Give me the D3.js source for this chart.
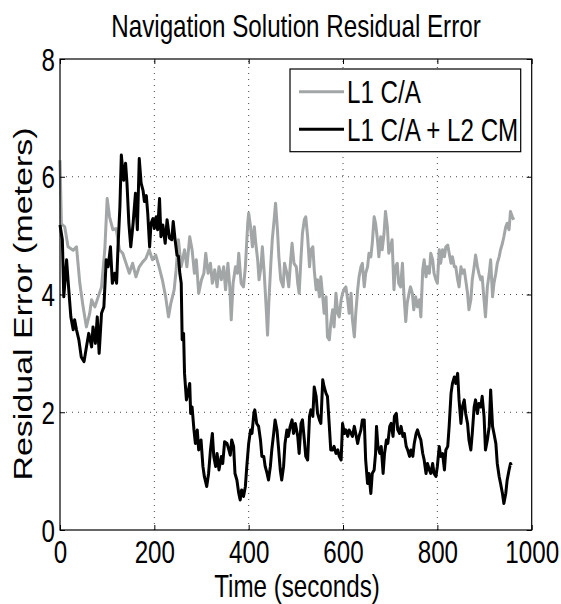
<!DOCTYPE html>
<html><head><meta charset="utf-8">
<script src="https://cdn.jsdelivr.net/npm/d3@7"></script>
<style>body{margin:0;background:#fff}svg{display:block}</style>
</head><body>
<svg id="c" width="561" height="604"></svg>
<script>
const title = "Navigation Solution Residual Error";
const xLabel = "Time (seconds)";
const yLabel = "Residual Error (meters)";
const xTicks = [0,200,400,600,800,1000];
const yTicks = [0,2,4,6,8];
const seriesNames = ["L1 C/A", "L1 C/A + L2 CM"];

const grayT = [0,3,10,17,28,35,42,49,56,63,67,74,81,88,95,100,105,112,119,126,133,140,147,154,161,168,175,182,189,196,203,210,217,224,230,235,242,246,251,257,264,269,275,280,285,289,294,300,305,309,314,319,323,328,333,337,342,347,351,356,360,363,367,372,376,379,384,389,393,398,400,404,408,412,415,419,422,426,429,433,437,440,443,447,450,454,457,461,464,468,473,476,481,485,489,492,496,501,504,507,511,514,518,521,525,529,532,536,539,543,546,550,553,557,560,564,567,571,574,578,581,585,589,592,596,599,603,606,610,613,617,620,624,627,631,634,638,641,645,648,652,655,659,662,666,669,673,676,680,683,687,690,694,697,701,704,708,711,715,718,722,726,729,733,736,740,743,747,750,754,758,762,765,769,772,776,779,783,786,790,793,797,800,804,807,811,815,818,822,825,829,832,836,839,843,846,850,853,857,860,864,867,871,874,878,881,885,888,892,895,899,902,906,910,913,917,920,924,927,931,934,938,941,945,948,952,955,959,962];
const grayV = [6.28,5.2,5.15,4.81,4.75,4.81,4.19,3.79,3.45,3.68,3.91,3.79,3.96,4.13,4.76,5.63,5.32,5.10,5.12,4.76,4.70,4.53,4.36,4.53,4.30,4.47,4.55,4.61,4.76,4.59,4.67,4.47,4.25,3.96,3.62,3.85,4.08,4.4,4.93,4.47,4.76,4.47,4.98,4.76,4.36,4.59,4.02,4.25,4.36,4.70,4.36,4.53,4.19,4.42,4.13,4.47,4.25,4.47,4.08,4.53,4.13,3.57,4.19,4.47,4.36,4.70,4.19,4.13,4.47,5.21,5.38,5.15,4.81,5.15,4.87,4.59,4.25,4.47,4.81,4.36,3.79,3.31,3.91,4.53,4.93,5.27,5.55,5.10,4.64,4.25,4.13,4.53,4.36,4.13,4.59,4.87,4.53,4.47,4.19,4.02,4.64,5.04,5.27,5.32,4.98,4.47,4.76,4.81,4.42,4.08,4.25,3.96,4.30,3.96,3.68,3.96,3.28,3.23,3.51,3.74,3.45,4.02,3.68,3.62,3.91,4.02,4.10,4.13,3.91,3.68,4.02,3.57,3.28,3.68,4.08,4.30,4.47,4.53,4.13,4.36,4.47,4.70,4.64,4.87,5.32,5.21,4.93,4.64,4.98,4.76,5.04,5.41,5.15,4.70,4.81,4.93,4.08,4.47,4.53,4.19,4.13,4.53,4.02,3.54,3.85,4.02,4.13,4.02,3.74,3.96,3.79,3.91,3.62,4.42,4.59,4.30,4.47,4.36,4.70,4.59,4.36,4.25,4.19,4.76,4.53,4.76,4.64,4.81,4.84,4.70,4.53,4.64,4.47,4.47,4.25,4.13,4.47,4.36,4.42,4.25,4.02,3.74,3.91,4.25,4.47,4.67,4.47,4.36,4.25,4.30,3.91,3.62,4.13,4.36,4.59,3.96,4.19,4.36,4.53,4.64,4.76,4.87,4.98,5.15,5.21,5.10,5.41,5.32,5.27];

const blackT = [0,5,8,14,17,23,28,31,35,40,45,51,56,61,67,70,75,79,83,88,93,98,102,107,111,116,120,123,127,130,135,139,142,146,150,155,160,164,168,172,176,179,183,186,190,193,197,200,204,207,211,214,218,223,227,232,237,240,244,248,251,254,257,259,262,264,268,271,275,277,280,284,287,291,294,299,303,306,311,315,319,323,326,330,333,337,342,345,349,354,357,361,364,368,371,375,379,382,385,389,393,396,400,404,407,411,413,417,421,425,428,432,435,439,442,446,449,453,456,460,463,467,470,474,477,481,484,488,492,495,499,504,507,511,514,518,521,525,529,532,536,539,543,546,550,553,557,560,564,567,571,574,578,581,585,589,592,596,599,603,606,610,613,617,620,624,627,631,634,638,641,645,648,652,655,659,662,666,669,671,674,678,681,685,688,692,695,699,702,706,709,713,716,720,723,727,730,734,737,741,744,748,751,755,758,762,765,769,772,776,779,783,786,790,793,797,800,804,807,811,815,818,822,825,829,832,836,839,843,846,850,853,857,860,864,867,871,874,878,881,885,888,892,895,899,902,906,910,913,917,920,924,927,931,934,938,941,945,948,952,955,957];
const blackV = [5.18,4.93,3.96,4.59,4.25,3.62,3.40,3.57,3.40,3.23,2.94,2.86,3.11,3.34,3.11,3.45,3.17,3.62,3.0,3.68,3.79,4.59,4.47,4.81,4.19,4.36,4.19,4.81,5.49,6.37,5.94,6.23,5.89,5.21,4.81,5.21,5.72,5.10,6.31,5.89,5.77,5.58,5.68,5.38,4.81,5.21,5.29,5.12,5.32,5.10,5.63,4.98,5.18,4.87,5.27,4.96,4.93,5.24,4.93,4.67,4.65,4.36,4.19,3.23,3.34,2.66,2.21,2.32,2.49,1.98,2.09,1.70,1.47,1.70,1.36,1.53,1.08,0.91,0.74,0.96,1.36,1.64,1.25,1.08,1.30,1.02,1.25,1.13,1.50,1.47,1.39,1.27,1.53,1.42,0.96,0.85,0.62,0.51,0.68,0.57,0.74,1.08,1.47,1.70,1.64,1.98,2.04,1.81,1.76,1.53,1.25,1.25,1.08,0.96,0.85,1.08,1.36,1.64,1.87,1.70,1.42,1.02,0.85,1.08,1.47,1.70,1.59,1.76,1.87,1.64,1.81,1.59,1.30,1.81,1.87,1.53,1.25,1.19,1.93,2.04,1.93,2.43,2.27,1.98,1.87,1.81,2.55,2.43,2.32,2.27,1.76,1.36,1.36,1.42,1.30,1.36,1.25,1.19,1.81,1.64,1.70,1.59,1.70,1.64,1.59,1.76,1.64,1.47,1.59,1.70,1.87,1.87,1.19,0.79,0.96,0.62,0.96,1.02,1.30,1.76,1.42,1.30,1.42,0.96,1.30,1.53,1.47,1.76,1.81,1.59,1.93,1.98,1.70,1.64,1.76,1.59,1.64,1.42,1.36,1.25,1.36,1.25,1.47,1.64,1.70,1.59,1.53,1.30,1.19,0.96,1.13,1.02,0.96,1.13,0.96,0.91,1.08,1.42,1.25,1.30,1.02,1.36,1.42,1.76,2.32,2.49,2.60,2.49,2.66,2.21,1.81,2.09,2.21,1.98,1.81,1.53,1.36,1.64,2.09,2.21,1.98,2.15,2.09,2.27,1.93,1.36,1.53,1.76,2.38,1.76,1.64,1.47,1.13,0.91,0.79,0.62,0.45,0.62,0.85,1.02,1.13,1.10];

const grayColor = "#a2a6a6";
const FONT = "'Liberation Sans', Arial, Helvetica, sans-serif";
const SX = 0.78;

const svg = d3.select("#c");
const L = 60, R = 531.7, T = 59, B = 530;
const x = d3.scaleLinear().domain([0,1000]).range([L,R]);
const y = d3.scaleLinear().domain([0,8]).range([B,T]);

// grid
const grid = svg.append("g");
grid.selectAll("line.gx").data(xTicks.filter(d=>d>0&&d<1000)).join("line")
  .attr("x1",d=>x(d)).attr("x2",d=>x(d)).attr("y1",B).attr("y2",T)
  .attr("stroke","#444").attr("stroke-width",1).attr("stroke-dasharray","1,5");
grid.selectAll("line.gy").data(yTicks.filter(d=>d>0&&d<8)).join("line")
  .attr("y1",d=>y(d)).attr("y2",d=>y(d)).attr("x1",L).attr("x2",R)
  .attr("stroke","#444").attr("stroke-width",1).attr("stroke-dasharray","1,5");

// lines
const lineGen = d3.line().x(d=>x(d[0])).y(d=>y(d[1]));
const grayData = grayT.map((t,i)=>[t,grayV[i]]);
const blackData = blackT.map((t,i)=>[t,blackV[i]]);
svg.append("path").datum(grayData).attr("d",lineGen).attr("fill","none")
  .attr("stroke",grayColor).attr("stroke-width",3).attr("stroke-linejoin","round");
svg.append("path").datum(blackData).attr("d",lineGen).attr("fill","none")
  .attr("stroke","#000").attr("stroke-width",3).attr("stroke-linejoin","round");

// axes
function styleAxis(g){
  g.select(".domain").remove();
  g.selectAll(".tick line").attr("stroke","#000");
}
const xAxis = svg.append("g").attr("transform",`translate(0,${B})`)
  .call(d3.axisBottom(x).tickValues(xTicks).tickSizeInner(-5).tickSizeOuter(0).tickFormat(d3.format("d")));
styleAxis(xAxis);
xAxis.selectAll(".tick text").attr("y",33).attr("dy",null)
  .attr("font-family",FONT).attr("font-size",31).attr("fill","#000")
  .attr("transform",`scale(${SX},1)`);
const xTop = svg.append("g").attr("transform",`translate(0,${T})`)
  .call(d3.axisTop(x).tickValues(xTicks).tickSizeInner(-5).tickSizeOuter(0).tickFormat(""));
styleAxis(xTop);
const yAxis = svg.append("g").attr("transform",`translate(${L},0)`)
  .call(d3.axisLeft(y).tickValues(yTicks).tickSizeInner(-5).tickSizeOuter(0).tickFormat(d3.format("d")));
styleAxis(yAxis);
yAxis.selectAll(".tick text").attr("x",0).attr("dy","0.36em")
  .attr("font-family",FONT).attr("font-size",31).attr("fill","#000")
  .attr("text-anchor","end")
  .attr("transform",`translate(-5,0) scale(${SX},1)`);
const yRight = svg.append("g").attr("transform",`translate(${R},0)`)
  .call(d3.axisRight(y).tickValues(yTicks).tickSizeInner(-5).tickSizeOuter(0).tickFormat(""));
styleAxis(yRight);

// box
svg.append("rect").attr("x",L).attr("y",T).attr("width",R-L).attr("height",B-T)
  .attr("fill","none").attr("stroke","#000").attr("stroke-width",1.2);

// text helper
function htext(txt, tx, ty, size, anchor){
  svg.append("text").attr("transform",`translate(${tx},${ty}) scale(${SX},1)`)
    .attr("font-family",FONT).attr("font-size",size).attr("fill","#000")
    .attr("text-anchor",anchor||"start").text(txt);
}
htext(title, 296, 37, 31, "middle");
htext(xLabel, 297, 597, 31, "middle");
svg.append("text").attr("transform",`translate(32,304) rotate(-90) scale(1,${SX})`)
  .attr("font-family",FONT).attr("font-size",34).attr("fill","#000")
  .attr("text-anchor","middle").text(yLabel);

// legend
const lg = svg.append("g");
lg.append("rect").attr("x",290).attr("y",69).attr("width",230.7).attr("height",82.7)
  .attr("fill","#fff").attr("stroke","#000").attr("stroke-width",1.2);
const legendRows = [{name:seriesNames[0],color:grayColor,ly:91.7,ty:103.3},
                    {name:seriesNames[1],color:"#000",ly:129.3,ty:140.7}];
legendRows.forEach(r=>{
  lg.append("line").attr("x1",299).attr("x2",344).attr("y1",r.ly).attr("y2",r.ly)
    .attr("stroke",r.color).attr("stroke-width",3);
  htext(r.name, 347, r.ty, 31, "start");
});
</script>
</body></html>
